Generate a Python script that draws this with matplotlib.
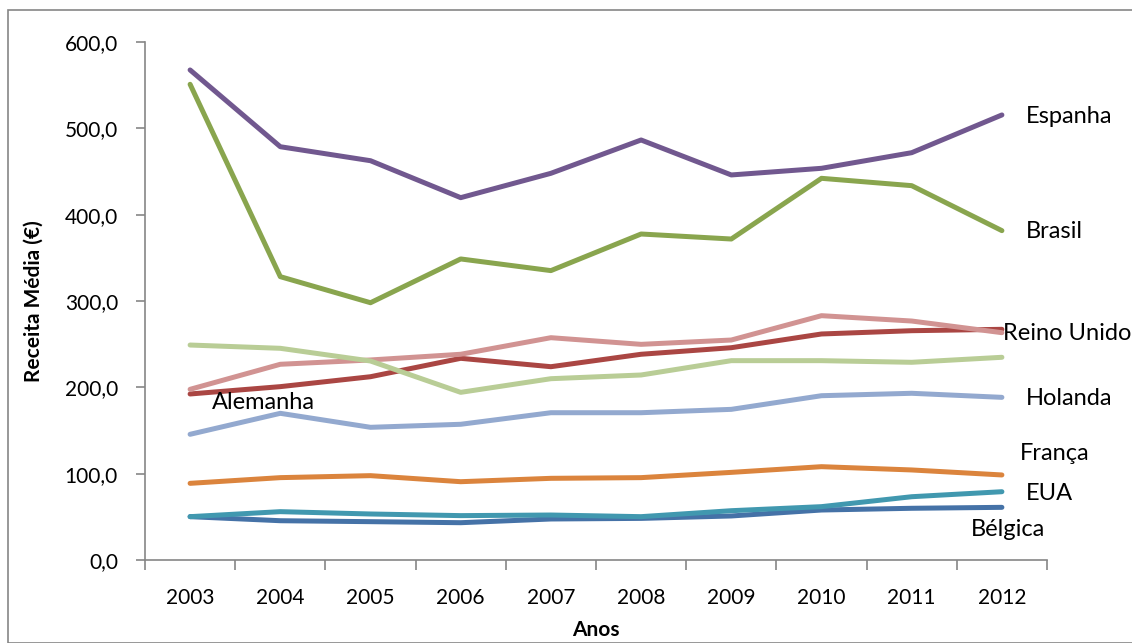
import matplotlib.pyplot as plt
from matplotlib.patches import Rectangle

anos = ['2003', '2004', '2005', '2006', '2007', '2008', '2009', '2010', '2011', '2012']

belgica = [50.2, 45.5, 44.4, 43.2, 47.5, 48.2, 51.0, 57.9, 59.9, 61.0]
reino_unido = [192.3, 200.8, 212.3, 233.6, 223.9, 238.3, 245.9, 261.8, 265.6, 267.2]
brasil = [551.0, 328.2, 298.0, 348.7, 335.2, 377.6, 371.8, 442.1, 433.6, 381.5]
espanha = [567.6, 478.7, 462.5, 419.7, 447.9, 486.5, 446.0, 453.7, 471.8, 515.5]
eua = [50.2, 56.0, 53.3, 51.4, 52.1, 50.2, 57.1, 61.8, 73.3, 79.1]
franca = [88.8, 95.4, 97.7, 90.7, 94.6, 95.4, 101.5, 108.1, 104.3, 98.5]
holanda = [145.6, 169.9, 153.7, 157.2, 170.6, 170.6, 174.5, 190.3, 193.1, 188.4]
rosa = [197.7, 226.7, 231.7, 238.3, 257.5, 249.8, 254.8, 283.0, 276.8, 263.3]
alemanha = [249.0, 245.2, 230.5, 194.2, 210.0, 214.3, 230.9, 230.9, 229.0, 234.8]

series = [
    (belgica, '#4572A7'),
    (reino_unido, '#AA4643'),
    (brasil, '#89A54E'),
    (espanha, '#71588F'),
    (eua, '#4198AF'),
    (franca, '#DB843D'),
    (holanda, '#93A9CF'),
    (rosa, '#D19392'),
    (alemanha, '#B9CD96'),
]

# rótulos (texto, x em categorias, y em valores)
rotulos = [
    ('Espanha', 9.27, 514),
    ('Brasil', 9.27, 380),
    ('Reino Unido', 9.01, 262),
    ('Holanda', 9.27, 186.5),
    ('Alemanha', 0.24, 182),
    ('França', 9.20, 123),
    ('EUA', 9.27, 77.6),
    ('Bélgica', 8.66, 34.8),
]

plt.rcParams['font.family'] = ['Lato', 'DejaVu Sans']

fig = plt.figure(figsize=(11.32, 6.43), dpi=100)
ax = fig.add_axes([145/1132, 83/643, 902/1132, 518/643])

x = list(range(len(anos)))
for vals, cor in series:
    ax.plot(x, vals, color=cor, lw=3.6, solid_capstyle='round', solid_joinstyle='round')

for txt, xx, yy in rotulos:
    ax.text(xx, yy, txt, fontsize=17, va='center', ha='left', clip_on=False)

ax.set_xlim(-0.5, 9.5)
ax.set_ylim(0, 600)
ax.set_yticks(range(0, 601, 100))
ax.set_yticklabels([f'{v},0' for v in range(0, 601, 100)], fontsize=15)
ax.set_xticks(x)
ax.set_xticklabels(anos, fontsize=15)
ax.set_xticks([i - 0.5 for i in range(len(anos) + 1)], minor=True)
ax.tick_params(axis='x', which='major', length=0, pad=20)
ax.tick_params(axis='x', which='minor', length=7, color='#868686', width=1.2, direction='out')
ax.tick_params(axis='y', length=6.5, color='#868686', width=1.2, direction='out', pad=13)

for s in ['top', 'right']:
    ax.spines[s].set_visible(False)
for s in ['left', 'bottom']:
    ax.spines[s].set_color('#868686')
    ax.spines[s].set_linewidth(1.2)

ax.set_xlabel('Anos', fontsize=15, fontweight='bold')
ax.set_ylabel('Receita Média (€)', fontsize=15, fontweight='bold')
ax.xaxis.set_label_coords(0.5, -0.115)
ax.yaxis.set_label_coords(-0.112, 0.5)

# borda da área do gráfico
fig.patches.append(Rectangle((8/1132, 0), 1.1, 633/643, transform=fig.transFigure,
                             fill=False, edgecolor='#868686', lw=1.2))

fig.savefig('out.png', dpi=100)
